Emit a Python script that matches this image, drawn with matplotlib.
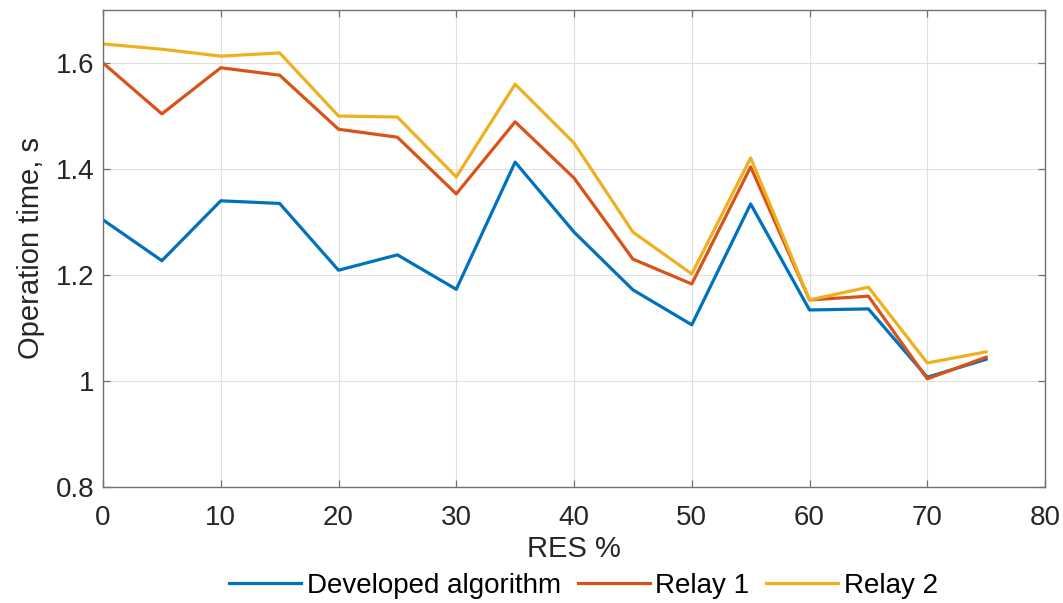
"""Operation time vs RES share (MATLAB-style line chart)."""
import matplotlib
matplotlib.use("Agg")
import matplotlib.pyplot as plt
from matplotlib.ticker import FixedLocator

plt.rcParams["font.family"] = ["Liberation Sans", "DejaVu Sans"]

res_pct = [0, 5, 10, 15, 20, 25, 30, 35, 40, 45, 50, 55, 60, 65, 70, 75]
developed = [1.304, 1.227, 1.340, 1.335, 1.209, 1.238, 1.173, 1.413, 1.281,
             1.172, 1.106, 1.334, 1.134, 1.136, 1.007, 1.041]
relay1 = [1.600, 1.504, 1.591, 1.577, 1.475, 1.460, 1.353, 1.489, 1.383,
          1.230, 1.183, 1.404, 1.153, 1.160, 1.004, 1.045]
relay2 = [1.636, 1.626, 1.613, 1.619, 1.500, 1.498, 1.385, 1.560, 1.449,
          1.281, 1.202, 1.421, 1.153, 1.177, 1.034, 1.055]

series = [
    ("Developed algorithm", developed, "#0072BD"),
    ("Relay 1", relay1, "#D95319"),
    ("Relay 2", relay2, "#EDB120"),
]

x_ticks = [0, 10, 20, 30, 40, 50, 60, 70, 80]
y_ticks = [0.8, 1.0, 1.2, 1.4, 1.6]
y_tick_labels = ["0.8", "1", "1.2", "1.4", "1.6"]

fig = plt.figure(figsize=(10.63, 6.03), dpi=100)
ax = fig.add_axes([0.0969, 0.1924, 0.8862, 0.791])

for label, values, color in series:
    ax.plot(res_pct, values, color=color, linewidth=2.3, label=label)

ax.set_xlim(0, 80)
ax.set_ylim(0.8, 1.7)
ax.xaxis.set_major_locator(FixedLocator(x_ticks))
ax.set_yticks(y_ticks)
ax.set_yticklabels(y_tick_labels)
ax.grid(True, color="#e0e0e0", linewidth=0.8)
ax.set_axisbelow(True)

for side in ["left", "right", "top", "bottom"]:
    ax.spines[side].set_color("#707070")
    ax.spines[side].set_linewidth(1.0)
ax.tick_params(direction="in", length=5, width=0.9, color="#707070",
               labelcolor="#262626", labelsize=20, top=True, right=True,
               labeltop=False, labelright=False)
ax.tick_params(axis="x", pad=13)
ax.tick_params(axis="y", pad=6)

ax.set_xlabel("RES %", fontsize=21, color="#262626", labelpad=3)
ax.set_ylabel("Operation time, s", fontsize=21, color="#262626", labelpad=8)

ax.legend(loc="center", bbox_to_anchor=(0.51, -0.207), ncol=3, frameon=False,
          fontsize=20, handlelength=2.6, handletextpad=0.2, columnspacing=0.6)

fig.savefig("out.png", dpi=100)
plt.close(fig)
